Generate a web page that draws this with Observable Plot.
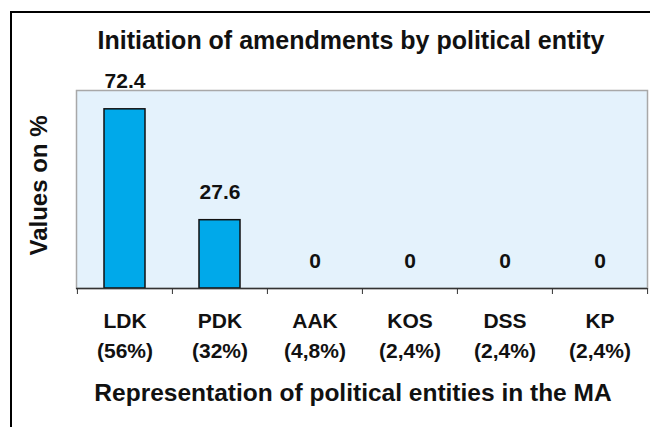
<!DOCTYPE html>
<html>
<head>
<meta charset="utf-8">
<script src="https://cdn.jsdelivr.net/npm/d3@7"></script>
<script src="https://cdn.jsdelivr.net/npm/@observablehq/plot@0.6"></script>
<style>
  html, body { margin: 0; padding: 0; background: #fff; }
  #wrap { position: relative; width: 650px; height: 427px; overflow: hidden; }
  #border { position: absolute; left: 10px; top: 11px; width: 700px; height: 500px;
            border-left: 2px solid #000; border-top: 2px solid #000; pointer-events: none; }
  svg { font-family: "Liberation Sans", Arial, sans-serif; font-weight: bold; }
</style>
</head>
<body>
<div id="wrap"><div id="border"></div></div>
<script>
const parties = ["LDK", "PDK", "AAK", "KOS", "DSS", "KP"];
const seatShares = ["56%", "32%", "4,8%", "2,4%", "2,4%", "2,4%"];
const values = [72.4, 27.6, 0, 0, 0, 0];
const title = "Initiation of amendments by political entity";
const xTitle = "Representation of political entities in the MA";
const yTitle = "Values on %";

const data = parties.map((p, i) => ({party: p, share: seatShares[i], value: values[i]}));

const W = 650, H = 427, ml = 76, mr = 3, mt = 90, mb = 139;
const step = (W - ml - mr) / parties.length;

const chart = Plot.plot({
  width: W,
  height: H,
  marginLeft: ml,
  marginRight: mr,
  marginTop: mt,
  marginBottom: mb,
  style: {fontFamily: "'Liberation Sans', Arial, sans-serif", fontWeight: "bold", background: "transparent"},
  x: {domain: parties, paddingInner: 0.57, paddingOuter: 0.285, axis: null, label: null},
  y: {domain: [0, 80], axis: null, label: null},
  marks: [
    Plot.frame({fill: "#E4F2FC", stroke: "#A8A8A8", strokeWidth: 1.5}),
    Plot.barY(data, {x: "party", y: "value", fill: "#00A9EA", stroke: "#111", strokeWidth: 1.5}),
    Plot.ruleY([0], {stroke: "#333", strokeWidth: 1.5}),
    Plot.axisX({tickSize: 6, dx: -step / 2, tickFormat: () => "", stroke: "#333", label: null}),
    Plot.axisX({ticks: [parties[parties.length - 1]], tickSize: 6, dx: step / 2, tickFormat: () => "", stroke: "#333", label: null}),
    Plot.axisX({
      tickSize: 0, tickPadding: 19, label: null,
      tickFormat: (d) => d + "\n(" + seatShares[parties.indexOf(d)] + ")",
      fontSize: 21, fontWeight: "bold", fill: "#111", lineHeight: 1.4
    }),
    Plot.text(data, {x: "party", y: "value", text: (d) => String(d.value), dy: -21, lineAnchor: "bottom",
      fontSize: 21, fontWeight: "bold", fill: "#111"}),
    Plot.text([title], {frameAnchor: "top", dx: -11, dy: -42, lineAnchor: "bottom", fontSize: 25, fontWeight: "bold", fill: "#111"}),
    Plot.text([xTitle], {frameAnchor: "bottom", dx: -9, dy: 112, lineAnchor: "bottom", fontSize: 24.5, fontWeight: "bold", fill: "#111"}),
    Plot.text([yTitle], {frameAnchor: "left", textAnchor: "middle", lineAnchor: "middle", rotate: -90, dx: -37, dy: -4, fontSize: 24, fontWeight: "bold", fill: "#111"})
  ]
});
document.getElementById("wrap").prepend(chart);
</script>
</body>
</html>
